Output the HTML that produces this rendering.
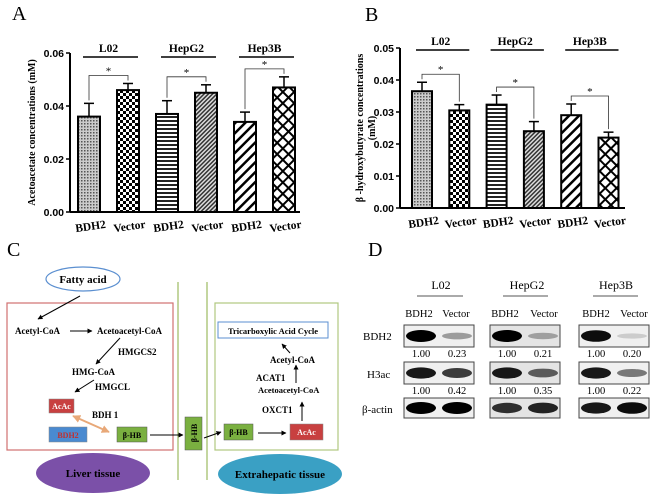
<!DOCTYPE html>
<html><head><meta charset="utf-8"><style>
body{margin:0;background:#fff;}
svg{display:block;font-family:"Liberation Serif",serif;}
.s{font-family:"Liberation Sans",sans-serif;font-weight:bold;}
</style></head><body>
<svg id="fig" width="653" height="500" viewBox="0 0 653 500">
<defs>
<pattern id="p0" width="3" height="3" patternUnits="userSpaceOnUse"><rect width="3" height="3" fill="#ccc"/><rect width="1.5" height="1.5" fill="#555"/></pattern>
<pattern id="p1" width="6" height="6" patternUnits="userSpaceOnUse"><rect width="6" height="6" fill="#fff"/><rect width="3" height="3" fill="#000"/><rect x="3" y="3" width="3" height="3" fill="#000"/></pattern>
<pattern id="p2" width="4" height="4" patternUnits="userSpaceOnUse"><rect width="4" height="4" fill="#fff"/><rect width="4" height="2" fill="#222"/></pattern>
<pattern id="p3" width="3" height="3" patternUnits="userSpaceOnUse" patternTransform="rotate(45)"><rect width="3" height="3" fill="#ddd"/><rect width="1.5" height="3" fill="#333"/></pattern>
<pattern id="p4" width="7" height="7" patternUnits="userSpaceOnUse" patternTransform="rotate(45)"><rect width="7" height="7" fill="#fff"/><rect width="2.5" height="7" fill="#000"/></pattern>
<pattern id="p5" width="8" height="8" patternUnits="userSpaceOnUse" patternTransform="rotate(45)"><rect width="8" height="8" fill="#fff"/><rect width="2" height="8" fill="#000"/><rect width="8" height="2" fill="#000"/></pattern>
<marker id="ar" viewBox="0 0 10 10" refX="9" refY="5" markerWidth="5" markerHeight="5" orient="auto"><path d="M0,0L10,5L0,10z" fill="#000"/></marker>
<marker id="ao" viewBox="0 0 10 10" refX="9" refY="5" markerWidth="4" markerHeight="4" orient="auto-start-reverse"><path d="M0,0L10,5L0,10z" fill="#e8a878"/></marker>
</defs>
<g id="chartA"></g>
<g id="chartB"></g>

<!-- Panel C -->
<g font-weight="bold" font-size="9">
<text x="7" y="256" font-size="20" font-weight="normal">C</text>
<ellipse cx="83" cy="279" rx="37" ry="12" fill="#fff" stroke="#5b8fd0" stroke-width="1.2"/>
<text x="83" y="283" text-anchor="middle" font-size="11">Fatty acid</text>
<rect x="7" y="303" width="166" height="147" fill="none" stroke="#d07070" stroke-width="1.2"/>
<line x1="178" y1="282" x2="178" y2="480" stroke="#b0c880" stroke-width="1.5"/>
<line x1="207" y1="282" x2="207" y2="480" stroke="#b0c880" stroke-width="1.5"/>
<rect x="215" y="303" width="123" height="147" fill="none" stroke="#b0c880" stroke-width="1.2"/>
<line x1="80" y1="296" x2="38" y2="319" stroke="#000" marker-end="url(#ar)"/>
<text x="15" y="334">Acetyl-CoA</text>
<line x1="70" y1="331" x2="92" y2="331" stroke="#000" marker-end="url(#ar)"/>
<text x="97" y="334">Acetoacetyl-CoA</text>
<line x1="120" y1="338" x2="96" y2="364" stroke="#000" marker-end="url(#ar)"/>
<text x="118" y="355">HMGCS2</text>
<text x="72" y="375">HMG-CoA</text>
<line x1="94" y1="380" x2="75" y2="392" stroke="#000" marker-end="url(#ar)"/>
<text x="95" y="390">HMGCL</text>
<rect x="49" y="399" width="25" height="14" fill="#c84040" stroke="#888" stroke-width="0.5"/>
<text x="61.5" y="409" text-anchor="middle" fill="#fff" font-size="8">AcAc</text>
<text x="92" y="418">BDH 1</text>
<rect x="49" y="427" width="38" height="15" fill="#4a8ad0" stroke="#888" stroke-width="0.5"/>
<text x="68" y="438" text-anchor="middle" fill="#c03030" font-size="8">BDH2</text>
<line x1="73" y1="416" x2="109" y2="432" stroke="#e8a878" stroke-width="2" marker-start="url(#ao)" marker-end="url(#ao)"/>
<rect x="117" y="427" width="30" height="15" fill="#7ab040" stroke="#555" stroke-width="0.5"/>
<text x="132" y="438" text-anchor="middle" font-size="8">β-HB</text>
<line x1="150" y1="435" x2="183" y2="435" stroke="#000" marker-end="url(#ar)"/>
<rect x="185" y="417" width="17" height="33" fill="#7ab040" stroke="#555" stroke-width="0.5"/>
<text transform="translate(197,433) rotate(-90)" text-anchor="middle" font-size="8">β-HB</text>
<line x1="204" y1="438" x2="221" y2="432" stroke="#000" marker-end="url(#ar)"/>
<rect x="224" y="424" width="29" height="16" fill="#7ab040" stroke="#555" stroke-width="0.5"/>
<text x="238.5" y="435" text-anchor="middle" font-size="8">β-HB</text>
<line x1="258" y1="433" x2="286" y2="433" stroke="#000" marker-end="url(#ar)"/>
<rect x="290" y="424" width="33" height="16" fill="#c84040" stroke="#888" stroke-width="0.5"/>
<text x="306.5" y="435" text-anchor="middle" fill="#fff" font-size="8">AcAc</text>
<line x1="302" y1="421" x2="302" y2="402" stroke="#000" marker-end="url(#ar)"/>
<text x="262" y="413">OXCT1</text>
<text x="258" y="393" font-size="8.5">Acetoacetyl-CoA</text>
<line x1="296" y1="383" x2="296" y2="365" stroke="#000" marker-end="url(#ar)"/>
<text x="256" y="381">ACAT1</text>
<text x="270" y="363">Acetyl-CoA</text>
<line x1="290" y1="353" x2="282" y2="344" stroke="#000" marker-end="url(#ar)"/>
<rect x="218" y="322" width="110" height="16" fill="#fff" stroke="#5b8fd0"/>
<text x="273" y="334" text-anchor="middle" font-size="8.5">Tricarboxylic Acid Cycle</text>
<ellipse cx="93" cy="473" rx="57" ry="20" fill="#7b50a8"/>
<text x="93" y="477" text-anchor="middle" font-size="11">Liver tissue</text>
<ellipse cx="280" cy="474" rx="62" ry="20" fill="#3aa0c4"/>
<text x="280" y="478" text-anchor="middle" font-size="11">Extrahepatic tissue</text>
</g>

<!-- Panel D -->
<g font-size="11">
<text x="368" y="256" font-size="20">D</text>
<g text-anchor="middle" font-size="12">
<text x="441" y="289">L02</text><line x1="417" y1="296" x2="463" y2="296" stroke="#555"/>
<text x="527" y="289">HepG2</text><line x1="503" y1="296" x2="548" y2="296" stroke="#555"/>
<text x="616" y="289">Hep3B</text><line x1="593" y1="296" x2="638" y2="296" stroke="#555"/>
</g>
<g text-anchor="middle" font-size="10.5">
<text x="419" y="317">BDH2</text><text x="456" y="317">Vector</text>
<text x="505" y="317">BDH2</text><text x="544" y="317">Vector</text>
<text x="596" y="317">BDH2</text><text x="634" y="317">Vector</text>
</g>
<text x="363" y="340">BDH2</text><text x="367" y="378">H3ac</text><text x="362" y="413">β-actin</text>
<g id="blots"></g>
</g>

<script>
var ns="http://www.w3.org/2000/svg";
function mk(p,t,a){var e=document.createElementNS(ns,t);for(var k in a)e.setAttribute(k,a[k]);p.appendChild(e);return e;}
var categories=["BDH2","Vector","BDH2","Vector","BDH2","Vector"];
var groups=["L02","HepG2","Hep3B"];
var valuesA=[0.036,0.046,0.037,0.045,0.034,0.047];
var errA=[0.005,0.0025,0.005,0.003,0.0037,0.004];
var ticksA=[0,0.02,0.04,0.06];
var valuesB=[0.0365,0.0305,0.0323,0.024,0.029,0.022];
var errB=[0.0028,0.0018,0.003,0.003,0.0035,0.0017];
var ticksB=[0,0.01,0.02,0.03,0.04,0.05];
var pats=["p0","p1","p2","p3","p4","p5"];

function chart(g,o,vals,errs,ticks,dec,letter,ylab){
  var x0=o.x0,x1=o.x1,yb=o.yb,yt=o.yt,max=ticks[ticks.length-1];
  function y(v){return yb-(v/max)*(yb-yt);}
  function x(i){return o.c0+i*o.step;}
  var t=mk(g,"text",{x:o.lx,y:o.ly,"font-size":"20"});t.textContent=letter;
  mk(g,"line",{x1:x0,y1:yt,x2:x0,y2:yb,stroke:"#000","stroke-width":2});
  mk(g,"line",{x1:x0,y1:yb,x2:x1,y2:yb,stroke:"#000","stroke-width":2});
  ticks.forEach(function(tv){
    mk(g,"line",{x1:x0-4,y1:y(tv),x2:x0,y2:y(tv),stroke:"#000","stroke-width":1.5});
    var tt=mk(g,"text",{x:x0-6,y:y(tv)+4,"text-anchor":"end","font-size":"10.5","class":"s"});
    
    
    tt.textContent=tv.toFixed(dec);
  });
  vals.forEach(function(v,i){
    var cx=x(i),w=o.bw;
    var top=y(v+errs[i]);
    mk(g,"line",{x1:cx,y1:y(v),x2:cx,y2:top,stroke:"#000","stroke-width":1.5});
    mk(g,"line",{x1:cx-5,y1:top,x2:cx+5,y2:top,stroke:"#000","stroke-width":1.5});
    var r=mk(g,"rect",{x:cx-w/2,y:y(v),width:w,height:yb-y(v),fill:"url(#"+pats[i]+")",stroke:"#000","stroke-width":2});
    
    
    var lb=mk(g,"text",{transform:"translate("+(cx+2)+","+(yb+18)+") rotate(-8)","text-anchor":"middle","font-size":"11.5","font-weight":"bold"});
    
    
    lb.textContent=categories[i];
  });
  for(var gi=0;gi<3;gi++){
    var a=x(gi*2),b=x(gi*2+1);
    var ht=mk(g,"text",{x:(a+b)/2,y:o.hy-5,"text-anchor":"middle","font-size":"11.5","font-weight":"bold"});
    
    
    ht.textContent=groups[gi];
    mk(g,"line",{x1:a-6,y1:o.hy,x2:b+10,y2:o.hy,stroke:"#000","stroke-width":1.5});
    var by=Math.min(y(vals[gi*2]+errs[gi*2]),y(vals[gi*2+1]+errs[gi*2+1]))-o.bo;
    mk(g,"polyline",{points:a+","+(y(vals[gi*2]+errs[gi*2])-3)+" "+a+","+by+" "+b+","+by+" "+b+","+(y(vals[gi*2+1]+errs[gi*2+1])-3),fill:"none",stroke:"#333","stroke-width":0.8});
    var st=mk(g,"text",{x:(a+b)/2,y:by-1,"text-anchor":"middle","font-size":"11"});st.textContent="*";
  }
  var yl=mk(g,"text",{transform:"translate("+o.ylx+","+((yt+yb)/2)+") rotate(-90)","text-anchor":"middle","font-size":"10","font-weight":"bold"});
  
  
  ylab.forEach(function(s,k){var ts=mk(yl,"tspan",{x:0,dy:k?12:0});ts.textContent=s;});
}
chart(document.getElementById("chartA"),{x0:70,x1:300,yb:212,yt:53,c0:89,step:39,bw:22,hy:57,bo:8,lx:12,ly:20,ylx:35},valuesA,errA,ticksA,2,"A",["Acetoacetate concentrations (mM)"]);
chart(document.getElementById("chartB"),{x0:400,x1:625,yb:208,yt:48,c0:422,step:37.3,bw:20,hy:50,bo:8,lx:365,ly:21,ylx:363},valuesB,errB,ticksB,2,"B",["β -hydroxybutyrate concentrations","(mM)"]);

var bl=document.getElementById("blots");
var boxX=[404,490,579],rowsY=[325,362,398],rowH=[22,22,20];
var nums=[["1.00","0.23","1.00","0.21","1.00","0.20"],["1.00","0.42","1.00","0.35","1.00","0.22"]];
var inten=[[1,0.35,1,0.3,0.95,0.15],[0.9,0.75,0.9,0.6,0.9,0.5],[1,1,0.8,0.85,0.9,0.95]];
for(var gi=0;gi<3;gi++){for(var r=0;r<3;r++){
  var bx=mk(bl,"rect",{x:boxX[gi],y:rowsY[r],width:70,height:rowH[r],fill:(gi==1?"#e4e4e4":"#f0f0f0"),stroke:"#444","stroke-width":1});
  
  
  for(var l=0;l<2;l++){var it=inten[r][gi*2+l];
    mk(bl,"ellipse",{cx:boxX[gi]+17+l*36,cy:rowsY[r]+rowH[r]/2,rx:15,ry:2+4*it,fill:"#000","fill-opacity":it});}
  if(r<2){for(var l=0;l<2;l++){var nt=mk(bl,"text",{x:boxX[gi]+17+l*36,y:rowsY[r]+rowH[r]+10,"text-anchor":"middle","font-size":"10.5"});nt.textContent=nums[r][gi*2+l];}}
}}
</script>
</svg>
</body></html>
